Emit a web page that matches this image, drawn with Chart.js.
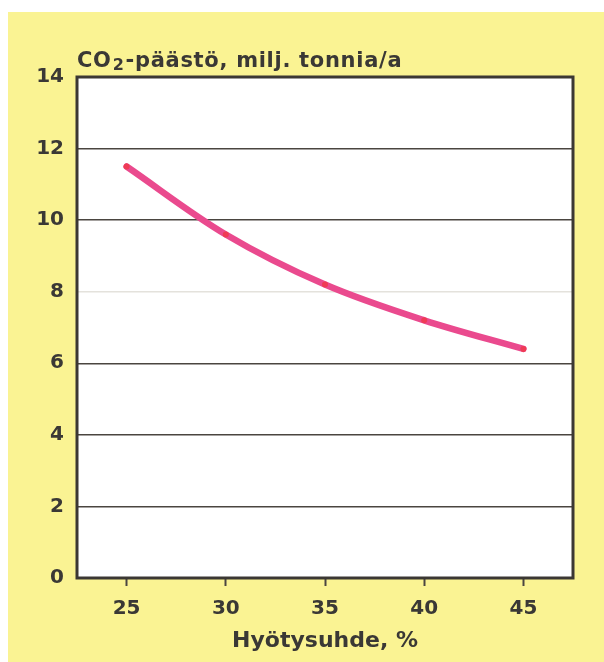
<!DOCTYPE html>
<html>
<head>
<meta charset="utf-8">
<script src="https://cdn.jsdelivr.net/npm/chart.js@4"></script>
<style>
  html, body { margin: 0; padding: 0; background: #ffffff; }
  #panel { position: absolute; left: 8px; top: 12px; width: 596px; height: 650px; background: #faf393; }
  #wrap { position: absolute; left: 0; top: 0; width: 604px; height: 662px; }
</style>
</head>
<body>
<div id="panel"></div>
<div id="wrap"><canvas id="co2Chart" width="604" height="662"></canvas></div>
<script>
const efficiency = [25, 30, 35, 40, 45];
const emissions = [11.5, 9.6, 8.2, 7.2, 6.4];
const xTicks = [25, 30, 35, 40, 45];
const yTicks = [0, 2, 4, 6, 8, 10, 12, 14];

const textColor = '#3a3835';
const fontFamily = '"DejaVu Sans", Verdana, sans-serif';

const framePlugin = {
  id: 'frame',
  beforeDraw(chart) {
    const { ctx, chartArea } = chart;
    ctx.save();
    ctx.fillStyle = '#ffffff';
    ctx.fillRect(chartArea.left, chartArea.top, chartArea.right - chartArea.left, chartArea.bottom - chartArea.top);
    ctx.restore();
  },
  afterDraw(chart) {
    const { ctx, chartArea } = chart;
    ctx.save();
    ctx.strokeStyle = '#3b3733';
    ctx.lineWidth = 3;
    ctx.strokeRect(chartArea.left, chartArea.top, chartArea.right - chartArea.left, chartArea.bottom - chartArea.top);
    // y axis heading
    ctx.fillStyle = textColor;
    ctx.textBaseline = 'alphabetic';
    ctx.textAlign = 'left';
    ctx.letterSpacing = '0.7px';
    let x = chartArea.left;
    const y = chartArea.top - 10;
    ctx.font = 'bold 21px ' + fontFamily;
    ctx.fillText('CO', x, y);
    x += ctx.measureText('CO').width + 1;
    ctx.font = 'bold 16px ' + fontFamily;
    ctx.fillText('2', x, y + 3);
    x += ctx.measureText('2').width + 1;
    ctx.font = 'bold 21px ' + fontFamily;
    ctx.fillText('-päästö, milj. tonnia/a', x, y);
    ctx.restore();
  }
};

new Chart(document.getElementById('co2Chart'), {
  type: 'line',
  data: {
    datasets: [{
      data: efficiency.map((v, i) => ({ x: v, y: emissions[i] })),
      borderColor: '#ea4a8e',
      borderWidth: 6.5,
      borderCapStyle: 'round',
      tension: 0.35,
      pointRadius: 3,
      pointBackgroundColor: '#ef3b55',
      pointBorderWidth: 0,
      fill: false
    }]
  },
  options: {
    responsive: false,
    animation: false,
    layout: { padding: { top: 77, right: 31, bottom: 0, left: 0 } },
    plugins: { legend: { display: false }, tooltip: { enabled: false } },
    scales: {
      x: {
        type: 'linear',
        min: 22.5,
        max: 47.5,
        afterBuildTicks: s => { s.ticks = xTicks.map(v => ({ value: v })); },
        afterFit: s => { s.height = 84; },
        border: { display: false },
        grid: { drawOnChartArea: false, drawTicks: true, tickLength: 8, tickColor: '#4a4540', tickWidth: 2 },
        ticks: { color: textColor, padding: 11, font: { family: fontFamily, size: 20, weight: 'bold' } },
        title: {
          display: true,
          text: 'Hyötysuhde, %',
          color: textColor,
          padding: { top: 0, bottom: 8 },
          font: { family: fontFamily, size: 22, weight: 'bold' }
        }
      },
      y: {
        min: 0,
        max: 14,
        afterBuildTicks: s => { s.ticks = yTicks.map(v => ({ value: v })); },
        afterFit: s => { s.width = 77; },
        border: { display: false },
        grid: {
          drawTicks: false,
          color: ctx => ctx.tick && ctx.tick.value === 8 ? '#e4e2dc' : '#4a4540',
          lineWidth: 1.5
        },
        ticks: { color: textColor, padding: 13, font: { family: fontFamily, size: 20, weight: 'bold' } }
      }
    }
  },
  plugins: [framePlugin]
});
</script>
</body>
</html>
